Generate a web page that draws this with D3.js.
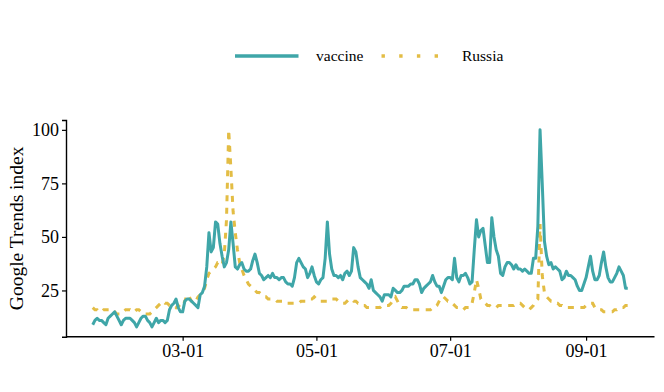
<!DOCTYPE html>
<html lang="en">
<head>
<meta charset="utf-8">
<script src="https://cdn.jsdelivr.net/npm/d3@7"></script>
<style>
    body { margin: 0; background: #fff; }
    text { font-family: "Liberation Serif", "Times New Roman", serif; fill: #000; }
</style>
</head>
<body>
<svg width="664" height="392"></svg>
<script>
    // daily series, starting 2020-01-20
    var startDate = "2020-01-20";

    var vaccine = [
        9, 11, 12, 11, 11, 10, 9, 12, 13, 14, 15, 13, 11, 9, 11, 12, 12, 12, 11, 10,
        8, 10, 12, 13, 13, 11, 10, 8, 10, 12, 10, 11, 11, 10, 11, 16, 18, 19, 21, 17,
        15, 15, 20, 21, 21, 20, 19, 18, 17, 23, 24, 27, 36, 52, 43, 45, 57, 56, 47, 41,
        36, 38, 44, 57, 47, 36, 35, 37, 38, 35, 34, 34, 35, 39, 42, 38, 33, 32, 30, 31,
        32, 31, 33, 31, 31, 30, 31, 31, 29, 28, 28, 27, 31, 38, 40, 38, 36, 35, 31, 33,
        36, 32, 29, 28, 30, 31, 40, 57, 42, 35, 32, 32, 31, 32, 30, 33, 34, 32, 34, 45,
        43, 36, 31, 30, 29, 28, 26, 30, 25, 24, 23, 22, 20, 23, 23, 23, 22, 26, 25, 24,
        24, 25, 27, 27, 27, 28, 28, 30, 30, 28, 24, 26, 27, 28, 29, 32, 29, 27, 27, 24,
        27, 30, 31, 31, 30, 40, 31, 29, 32, 32, 33, 31, 28, 29, 44, 58, 50, 53, 54, 46,
        38, 38, 59, 50, 44, 41, 33, 32, 36, 38, 38, 37, 35, 37, 35, 35, 34, 35, 34, 33,
        33, 40, 40, 55, 100, 75, 48, 41, 37, 38, 35, 36, 35, 34, 30, 31, 34, 32, 32, 31,
        30, 27, 25, 25, 28, 31, 36, 41, 34, 30, 30, 32, 38, 43, 36, 31, 29, 29, 31, 33,
        36, 34, 32, 26, 26
    ];

    var russia = [
        17, 16, 16, 15, 15, 16, 16, 16, 16, 15, 15, 14, 14, 14, 15, 16, 16, 16, 15, 15,
        16, 16, 15, 15, 14, 14, 14, 15, 16, 17, 18, 19, 20, 19, 19, 18, 18, 18, 17, 18,
        17, 18, 20, 23, 22, 20, 19, 20, 22, 23, 24, 26, 30, 33, 34, 35, 36, 38, 38, 37,
        42, 58, 100, 82, 62, 52, 44, 38, 35, 32, 30, 28, 27, 26, 25, 24, 24, 23, 22, 22,
        21, 21, 21, 21, 20, 20, 20, 20, 19, 19, 19, 19, 19, 19, 19, 20, 20, 20, 20, 21,
        21, 22, 21, 20, 20, 20, 20, 20, 20, 21, 21, 21, 20, 20, 19, 19, 20, 21, 21, 20,
        20, 19, 19, 18, 18, 17, 17, 17, 17, 17, 17, 17, 18, 18, 18, 18, 19, 21, 22, 20,
        18, 17, 17, 17, 16, 16, 16, 16, 16, 16, 16, 16, 16, 16, 16, 17, 17, 18, 20, 22,
        22, 21, 20, 20, 19, 18, 17, 17, 16, 16, 17, 17, 17, 19, 24, 30, 26, 21, 20, 19,
        18, 18, 17, 17, 17, 18, 18, 18, 18, 18, 18, 18, 18, 19, 19, 19, 18, 17, 16, 16,
        17, 18, 20, 21, 56, 32, 24, 22, 21, 20, 20, 19, 19, 18, 18, 17, 17, 17, 17, 17,
        17, 17, 17, 17, 17, 18, 19, 19, 19, 17, 16, 16, 16, 15, 15, 15, 15, 15, 16, 16,
        17, 17, 17, 18, 18
    ];

    var seriesNames = ["vaccine", "Russia"];
    var yTicks = [25, 50, 75, 100];
    var xTicks = ["2020-03-01", "2020-05-01", "2020-07-01", "2020-09-01"];

    var teal = "#3fa6a8", gold = "#e3bd45";

    var parse = d3.timeParse("%Y-%m-%d");
    var t0 = parse(startDate);
    var dates = vaccine.map(function (v, i) { return d3.timeDay.offset(t0, i); });

    var svg = d3.select("svg");

    // plot panel
    var pLeft = 66, pRight = 654.5, pTop = 120, pBottom = 336.7;

    // ggplot-like 5% expansion of the data range
    var tMin = dates[0], tMax = dates[dates.length - 1];
    var span = tMax - tMin;
    var x = d3.scaleTime()
        .domain([new Date(+tMin - span * 0.05), new Date(+tMax + span * 0.05)])
        .range([pLeft, pRight]);

    var vAll = vaccine.concat(russia);
    var vMin = d3.min(vAll), vMax = d3.max(vAll);
    var vPad = (vMax - vMin) * 0.05;
    var y = d3.scaleLinear()
        .domain([vMin - vPad, vMax + vPad])
        .range([pBottom, pTop]);

    // axes
    var fmt = d3.timeFormat("%m-%d");
    var xAxis = svg.append("g")
        .attr("transform", "translate(0," + pBottom + ")")
        .call(d3.axisBottom(x)
            .tickValues(xTicks.map(parse))
            .tickFormat(fmt)
            .tickSizeOuter(0)
            .tickSize(4)
            .tickPadding(4));

    var yAxis = svg.append("g")
        .attr("transform", "translate(" + pLeft + ",0)")
        .call(d3.axisLeft(y)
            .tickValues(yTicks)
            .tickSizeOuter(0)
            .tickSize(4)
            .tickPadding(3));

    [xAxis, yAxis].forEach(function (a) {
        a.select(".domain").attr("stroke", "#000").attr("stroke-width", 1.4);
        a.selectAll(".tick line").attr("stroke", "#000").attr("stroke-width", 1.2);
        a.selectAll(".tick text")
            .style("font-family", "'Liberation Serif', 'Times New Roman', serif")
            .style("font-size", "18px")
            .attr("fill", "#000");
    });
    xAxis.select(".domain").attr("d", "M" + pLeft + ",0H" + pRight);

    // y title
    svg.append("text")
        .attr("transform", "translate(23," + ((pTop + pBottom) / 2) + ") rotate(-90)")
        .attr("text-anchor", "middle")
        .style("font-size", "19.5px")
        .text("Google Trends index");

    // lines
    var line = function (vals) {
        return d3.line()
            .x(function (d, i) { return x(dates[i]); })
            .y(function (d) { return y(d); })(vals);
    };

    svg.append("path")
        .attr("d", line(russia))
        .attr("fill", "none")
        .attr("stroke", gold)
        .attr("stroke-width", 3)
        .attr("stroke-dasharray", "6,6.5");

    svg.append("path")
        .attr("d", line(vaccine))
        .attr("fill", "none")
        .attr("stroke", teal)
        .attr("stroke-width", 3)
        .attr("stroke-linejoin", "round");

    // legend
    var lg = svg.append("g");
    lg.append("line")
        .attr("x1", 235).attr("x2", 298.5).attr("y1", 56).attr("y2", 56)
        .attr("stroke", teal).attr("stroke-width", 3.4);
    lg.append("text")
        .attr("x", 316).attr("y", 61)
        .style("font-size", "15.5px")
        .text(seriesNames[0]);
    lg.append("line")
        .attr("x1", 381.5).attr("x2", 438).attr("y1", 56).attr("y2", 56)
        .attr("stroke", gold).attr("stroke-width", 3.3)
        .attr("stroke-dasharray", "3.4,14.3");
    lg.append("text")
        .attr("x", 462).attr("y", 61)
        .style("font-size", "15.5px")
        .text(seriesNames[1]);
</script>
</body>
</html>
